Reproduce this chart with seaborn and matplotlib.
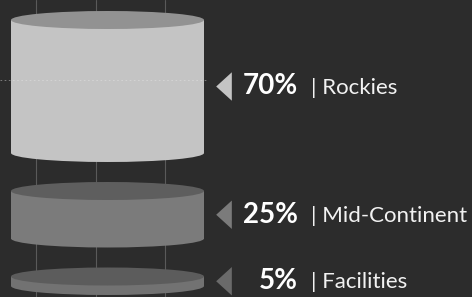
import matplotlib.pyplot as plt
import pandas as pd
import seaborn as sns
from matplotlib.patches import Ellipse, Rectangle

# chart data
regions = ['Rockies', 'Mid-Continent', 'Facilities']
shares = [70, 25, 5]
body_colors = ['#c4c4c4', '#7b7b7b', '#727272']
cap_colors = ['#929292', '#5e5e5e', '#5c5c5c']
arrow_colors = ['#c4c4c4', '#7b7b7b', '#6a6a6a']

BG = '#2c2c2c'
sns.set_theme(style='dark', rc={'axes.facecolor': BG, 'figure.facecolor': BG})
plt.rcParams['font.family'] = ['Lato', 'DejaVu Sans']

fig = plt.figure(figsize=(4.72, 2.97), dpi=100)
ax = fig.add_axes([0, 0, 1, 1])
ax.set_xlim(0, 472)
ax.set_ylim(297, 0)
ax.axis('off')

# layout (pixel units)
x0, x1 = 11, 204
cx = (x0 + x1) / 2
w = x1 - x0
ry = 9
scale = 1.9      # px per percent
gap = 38
top = 20

# faint guide lines
for gx in [36, 96, 165]:
    ax.axvline(gx, color='#5a5a5a', lw=0.8, zorder=1)
ax.plot([0, 208], [80, 80], color='#e8e8e8', lw=0.6, ls=(0, (2, 3)), alpha=0.5, zorder=6)

rows = []
y = top
for reg, v, bc, cc, ac in zip(regions, shares, body_colors, cap_colors, arrow_colors):
    h = v * scale
    ax.add_patch(Ellipse((cx, y + h), w, 2 * ry, color=bc, zorder=2, lw=0))
    ax.add_patch(Rectangle((x0, y), w, h, color=bc, zorder=2, lw=0))
    ax.add_patch(Ellipse((cx, y), w, 2 * ry, color=cc, zorder=3, lw=0))
    rows.append({'region': reg, 'share': v, 'mid': y + h / 2, 'color': ac})
    y += h + gap

df = pd.DataFrame(rows)
df['ax'] = 224

tri = [(-0.55, 0), (0.55, -1), (0.55, 1), (-0.55, 0)]
sns.scatterplot(data=df, x='ax', y='mid', hue='region', palette=list(df['color']),
                marker=tri, s=420, linewidth=0, legend=False, ax=ax, zorder=5)
ax.set_xlim(0, 472)
ax.set_ylim(297, 0)

for _, r in df.iterrows():
    ax.text(298, r['mid'], f"{r['share']}%", ha='right', va='center',
            color='white', fontsize=20, fontweight='bold')
    ax.text(311, r['mid'] + 1, f"| {r['region']}", ha='left', va='center',
            color='#f2f2f2', fontsize=16, fontweight='normal')

fig.savefig('out.png', dpi=100, facecolor=BG)
